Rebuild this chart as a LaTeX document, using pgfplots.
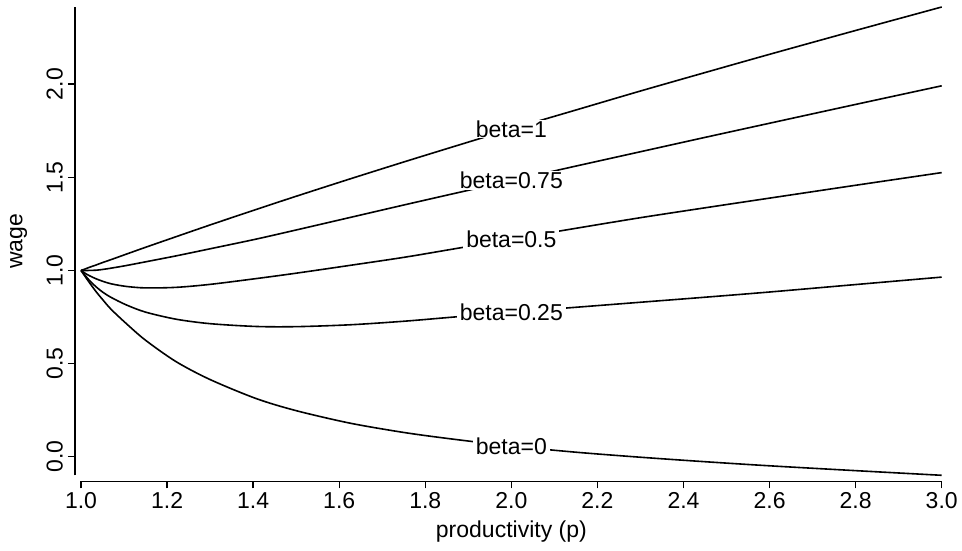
\documentclass[border=0pt]{standalone}
\usepackage{fontspec}
\setmainfont{Liberation Sans}
\usepackage{pgfplots}
\pgfplotsset{compat=1.18}

\newcommand\chartfont{\fontsize{23}{27}\selectfont}

% wage as a function of productivity for several bargaining weights beta
\pgfplotstableread{
p     w
1.000 1.000
1.010 1.008
1.020 1.017
1.035 1.029
1.050 1.042
1.070 1.058
1.105 1.087
1.150 1.124
1.221 1.181
1.300 1.244
1.407 1.327
1.500 1.398
1.625 1.491
1.750 1.582
1.858 1.659
2.000 1.759
2.150 1.861
2.300 1.963
2.450 2.062
2.600 2.160
2.800 2.288
3.000 2.414
}\betaone

\pgfplotstableread{
p     w
1.000 1.000
1.010 0.999
1.020 1.000
1.035 1.001
1.050 1.005
1.070 1.012
1.105 1.026
1.150 1.046
1.221 1.078
1.300 1.116
1.407 1.168
1.500 1.217
1.625 1.284
1.750 1.351
1.858 1.408
2.000 1.482
2.150 1.560
2.300 1.637
2.450 1.714
2.600 1.790
2.800 1.891
3.000 1.991
}\betathreeq

\pgfplotstableread{
p     w
1.000 1.000
1.010 0.984
1.020 0.971
1.035 0.955
1.050 0.942
1.070 0.928
1.105 0.914
1.150 0.906
1.221 0.909
1.300 0.925
1.407 0.956
1.500 0.985
1.625 1.027
1.750 1.070
1.858 1.112
2.000 1.168
2.150 1.226
2.300 1.283
2.450 1.336
2.600 1.388
2.800 1.457
3.000 1.525
}\betahalf

\pgfplotstableread{
p     w
1.000 1.000
1.010 0.972
1.020 0.945
1.035 0.912
1.050 0.884
1.070 0.855
1.105 0.815
1.150 0.776
1.221 0.738
1.300 0.714
1.407 0.699
1.500 0.698
1.625 0.708
1.750 0.727
1.858 0.748
2.000 0.775
2.150 0.802
2.300 0.829
2.450 0.856
2.600 0.884
2.800 0.924
3.000 0.964
}\betaquarter

\pgfplotstableread{
p     w
1.000 1.000
1.010 0.966
1.020 0.933
1.035 0.886
1.050 0.844
1.070 0.791
1.105 0.715
1.150 0.625
1.221 0.510
1.300 0.414
1.407 0.312
1.500 0.247
1.625 0.180
1.750 0.130
1.858 0.096
2.000 0.057
2.150 0.024
2.300 -0.003
2.450 -0.027
2.600 -0.049
2.800 -0.075
3.000 -0.100
}\betazero

\begin{document}
\begin{tikzpicture}
\useasboundingbox (-81pt,-74.7pt) rectangle (881pt,475.3pt);
\begin{axis}[
  at={(0,0)}, anchor=south west,
  scale only axis,
  width=860.7pt, height=468.3pt,
  xmin=1, xmax=3, ymin=-0.1, ymax=2.414,
  axis x line*=bottom, axis y line*=left,
  axis x line shift=6pt, axis y line shift=6pt,
  axis line style={line width=1.4pt, -},
  tick align=outside,
  major tick length=7pt,
  major tick style={line width=1.4pt, black},
  xtick={1.0,1.2,1.4,1.6,1.8,2.0,2.2,2.4,2.6,2.8,3.0},
  ytick={0,0.5,1.0,1.5,2.0},
  xticklabel shift=4pt,
  yticklabel shift=5pt,
  /pgf/number format/assume math mode=true,
  xticklabel style={font=\chartfont, inner sep=0pt, anchor=north,
    /pgf/number format/.cd, fixed, fixed zerofill, precision=1},
  yticklabel style={font=\chartfont, inner sep=0pt, rotate=90, anchor=south,
    /pgf/number format/.cd, fixed, fixed zerofill, precision=1},
  xlabel={productivity (p)},
  ylabel={wage},
  xlabel style={font=\chartfont, at={(axis description cs:0.5,-0.1318)}, anchor=base},
  ylabel style={font=\chartfont, at={(axis description cs:-0.068,0.5)}, anchor=base},
  cycle list={{black}},
  every axis plot/.append style={black, line width=1.6pt, smooth, no marks},
  clip=false,
]
\addplot table[x=p, y=w] {\betaone};
\addplot table[x=p, y=w] {\betathreeq};
\addplot table[x=p, y=w] {\betahalf};
\addplot table[x=p, y=w] {\betaquarter};
\addplot table[x=p, y=w] {\betazero};

\begin{scope}[every node/.style={fill=white, inner xsep=3pt, inner ysep=1pt, font=\chartfont}]
\node at (axis cs:2,1.759) {beta=1};
\node at (axis cs:2,1.482) {beta=0.75};
\node at (axis cs:2,1.168) {beta=0.5};
\node at (axis cs:2,0.775) {beta=0.25};
\node at (axis cs:2,0.057) {beta=0};
\end{scope}
\end{axis}
\end{tikzpicture}
\end{document}
